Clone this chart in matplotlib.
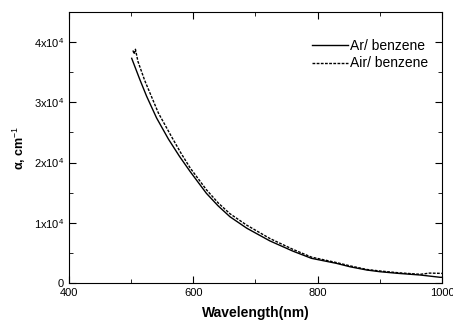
import matplotlib
matplotlib.use("Agg")
import matplotlib.pyplot as plt
from matplotlib.ticker import MultipleLocator

plt.rcParams['font.family'] = ['Liberation Sans', 'DejaVu Sans']
plt.rcParams['mathtext.fontset'] = 'custom'
plt.rcParams['mathtext.rm'] = 'Liberation Sans'
plt.rcParams['mathtext.bf'] = 'Liberation Sans:bold'

# Ar/ benzene (solid)
wl_ar = [501, 514, 525, 541, 560, 578, 595, 621, 640, 659, 686, 723, 760, 790,
         830, 852, 879, 900, 930, 965, 997, 1000]
alpha_ar = [37300, 33800, 31000, 27400, 23900, 21000, 18500, 14900, 12800, 11000,
            9100, 7000, 5300, 4100, 3270, 2700, 2160, 1880, 1600, 1330, 950, 950]

# Air/ benzene (dashed)
wl_air = [503, 505, 507, 511, 522, 544, 565, 580, 595, 621, 640, 659, 686, 723,
          760, 790, 830, 852, 879, 900, 930, 965, 980, 1000]
alpha_air = [38600, 38000, 38800, 36800, 33600, 28200, 24300, 21600, 19100,
             15500, 13300, 11500, 9600, 7400, 5600, 4300, 3400, 2850, 2250,
             2000, 1700, 1450, 1650, 1600]

y_ticks = [0, 10000, 20000, 30000, 40000]
y_labels = ['0', r'1x10$^4$', r'2x10$^4$', r'3x10$^4$', r'4x10$^4$']
x_ticks = [400, 600, 800, 1000]

fig = plt.figure(figsize=(4.53, 3.22), dpi=100)
ax = fig.add_axes([0.152, 0.121, 0.824, 0.842])

ax.plot(wl_ar, alpha_ar, color='black', lw=1.0, label='Ar/ benzene')
ax.plot(wl_air, alpha_air, color='black', lw=1.0, linestyle=(0, (2, 1)),
        label='Air/ benzene')

ax.set_xlim(400, 1000)
ax.set_ylim(0, 45000)
ax.set_xticks(x_ticks)
ax.xaxis.set_minor_locator(MultipleLocator(100))
ax.set_yticks(y_ticks)
ax.set_yticklabels(y_labels)
ax.yaxis.set_minor_locator(MultipleLocator(5000))
ax.tick_params(which='both', direction='in', top=True, right=True, labelsize=8)
ax.tick_params(which='major', length=5)
ax.tick_params(which='minor', length=3)

ax.set_xlabel('Wavelength(nm)', fontsize=10, fontweight='bold', labelpad=6)
ax.set_ylabel(r'$\mathbf{\alpha}$, cm$^{-1}$', fontsize=9, fontweight='bold')

ax.legend(loc='upper left', frameon=False, fontsize=10, handlelength=2.6,
          handletextpad=0.15, labelspacing=0.25, borderpad=0,
          borderaxespad=0, bbox_to_anchor=(0.651, 0.90))

fig.savefig('out.png', dpi=100)
